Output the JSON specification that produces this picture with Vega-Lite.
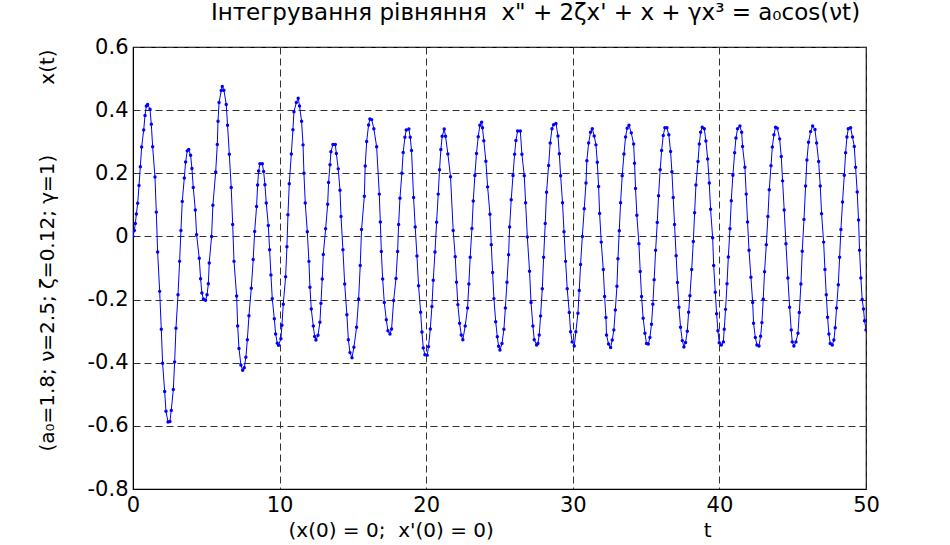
{
  "$schema": "https://vega.github.io/schema/vega-lite/v6.json",
  "width": 733,
  "height": 442,
  "autosize": {"type": "none"},
  "padding": {"left": 133, "top": 47, "right": 84, "bottom": 56},
  "background": "white",
  "title": {
    "text": "Інтегрування рівняння\u00a0\u00a0x\" + 2ζx' + x + γx³ = a₀cos(νt)",
    "font": "DejaVu Sans",
    "fontSize": 23,
    "fontWeight": "normal",
    "color": "black",
    "anchor": "middle",
    "baseline": "alphabetic",
    "offset": 12,
    "dy": 19,
    "dx": 36
  },
  "config": {
    "view": {"stroke": "black", "strokeWidth": 1.2},
    "axis": {
      "labelFont": "DejaVu Sans",
      "labelFontSize": 21,
      "labelColor": "black",
      "titleFont": "DejaVu Sans",
      "titleFontSize": 20,
      "titleFontWeight": "normal",
      "titleColor": "black",
      "domainColor": "black",
      "grid": true,
      "gridColor": "#333333",
      "gridDash": [7, 4],
      "gridWidth": 1,
      "gridOpacity": 1,
      "ticks": false,
      "tickSize": 0
    }
  },
  "data": {
    "values": [
      {"t":0,"x":0},{"t":0.09,"x":0.019},{"t":0.16,"x":0.041},{"t":0.23,"x":0.071},{"t":0.32,"x":0.105},{"t":0.41,"x":0.161},{"t":0.5,"x":0.221},{"t":0.59,"x":0.283},{"t":0.73,"x":0.337},{"t":0.82,"x":0.383},{"t":0.91,"x":0.413},{"t":1.0,"x":0.418},{"t":1.16,"x":0.403},{"t":1.25,"x":0.355},{"t":1.34,"x":0.284},{"t":1.5,"x":0.188},{"t":1.59,"x":0.077},{"t":1.68,"x":-0.049},{"t":1.82,"x":-0.174},{"t":1.93,"x":-0.294},{"t":2.02,"x":-0.402},{"t":2.16,"x":-0.491},{"t":2.25,"x":-0.554},{"t":2.39,"x":-0.588},{"t":2.52,"x":-0.586},{"t":2.61,"x":-0.551},{"t":2.75,"x":-0.485},{"t":2.84,"x":-0.398},{"t":2.93,"x":-0.291},{"t":3.07,"x":-0.185},{"t":3.18,"x":-0.079},{"t":3.27,"x":0.019},{"t":3.36,"x":0.111},{"t":3.5,"x":0.185},{"t":3.59,"x":0.236},{"t":3.7,"x":0.271},{"t":3.8,"x":0.275},{"t":3.93,"x":0.257},{"t":4.02,"x":0.215},{"t":4.11,"x":0.155},{"t":4.25,"x":0.084},{"t":4.34,"x":0.005},{"t":4.52,"x":-0.069},{"t":4.61,"x":-0.134},{"t":4.7,"x":-0.179},{"t":4.8,"x":-0.198},{"t":4.95,"x":-0.202},{"t":5.05,"x":-0.185},{"t":5.14,"x":-0.15},{"t":5.2,"x":-0.084},{"t":5.36,"x":0},{"t":5.45,"x":0.099},{"t":5.64,"x":0.204},{"t":5.75,"x":0.291},{"t":5.8,"x":0.365},{"t":5.87,"x":0.424},{"t":6.02,"x":0.462},{"t":6.09,"x":0.475},{"t":6.2,"x":0.463},{"t":6.36,"x":0.418},{"t":6.45,"x":0.352},{"t":6.57,"x":0.26},{"t":6.7,"x":0.155},{"t":6.8,"x":0.038},{"t":6.89,"x":-0.079},{"t":7.07,"x":-0.189},{"t":7.14,"x":-0.284},{"t":7.23,"x":-0.355},{"t":7.36,"x":-0.407},{"t":7.48,"x":-0.424},{"t":7.59,"x":-0.416},{"t":7.7,"x":-0.383},{"t":7.8,"x":-0.327},{"t":7.91,"x":-0.251},{"t":8.07,"x":-0.164},{"t":8.2,"x":-0.073},{"t":8.3,"x":0.016},{"t":8.43,"x":0.095},{"t":8.5,"x":0.163},{"t":8.57,"x":0.207},{"t":8.66,"x":0.23},{"t":8.82,"x":0.23},{"t":8.91,"x":0.206},{"t":9.0,"x":0.164},{"t":9.09,"x":0.106},{"t":9.23,"x":0.035},{"t":9.32,"x":-0.042},{"t":9.41,"x":-0.122},{"t":9.5,"x":-0.197},{"t":9.64,"x":-0.261},{"t":9.73,"x":-0.309},{"t":9.84,"x":-0.338},{"t":9.93,"x":-0.345},{"t":10.09,"x":-0.324},{"t":10.16,"x":-0.281},{"t":10.25,"x":-0.215},{"t":10.41,"x":-0.128},{"t":10.5,"x":-0.033},{"t":10.57,"x":0.069},{"t":10.66,"x":0.167},{"t":10.8,"x":0.261},{"t":10.91,"x":0.338},{"t":10.98,"x":0.395},{"t":11.14,"x":0.424},{"t":11.27,"x":0.438},{"t":11.36,"x":0.413},
      {"t":11.5,"x":0.365},{"t":11.6,"x":0.29},{"t":11.66,"x":0.2},{"t":11.75,"x":0.106},{"t":11.89,"x":0.015},{"t":12.0,"x":-0.079},{"t":12.07,"x":-0.161},{"t":12.16,"x":-0.23},{"t":12.3,"x":-0.284},{"t":12.39,"x":-0.317},{"t":12.48,"x":-0.328},{"t":12.62,"x":-0.313},{"t":12.75,"x":-0.272},{"t":12.82,"x":-0.212},{"t":12.91,"x":-0.135},{"t":12.98,"x":-0.057},{"t":13.14,"x":0.024},{"t":13.28,"x":0.102},{"t":13.34,"x":0.171},{"t":13.44,"x":0.227},{"t":13.5,"x":0.268},{"t":13.64,"x":0.291},{"t":13.8,"x":0.291},{"t":13.87,"x":0.263},{"t":14.0,"x":0.214},{"t":14.12,"x":0.146},{"t":14.19,"x":0.063},{"t":14.32,"x":-0.042},{"t":14.44,"x":-0.151},{"t":14.59,"x":-0.248},{"t":14.69,"x":-0.327},{"t":14.8,"x":-0.368},{"t":14.94,"x":-0.384},{"t":15.07,"x":-0.351},{"t":15.25,"x":-0.288},{"t":15.39,"x":-0.198},{"t":15.5,"x":-0.092},{"t":15.59,"x":0.022},{"t":15.78,"x":0.127},{"t":15.84,"x":0.223},{"t":15.94,"x":0.301},{"t":16.07,"x":0.353},{"t":16.16,"x":0.372},{"t":16.28,"x":0.37},{"t":16.43,"x":0.341},{"t":16.62,"x":0.284},{"t":16.8,"x":0.134},{"t":16.87,"x":0.046},{"t":16.94,"x":-0.048},{"t":17.03,"x":-0.135},{"t":17.14,"x":-0.209},{"t":17.28,"x":-0.264},{"t":17.39,"x":-0.299},{"t":17.53,"x":-0.309},{"t":17.64,"x":-0.293},{"t":17.78,"x":-0.203},{"t":17.94,"x":-0.133},{"t":18.05,"x":-0.048},{"t":18.12,"x":0.038},{"t":18.21,"x":0.121},{"t":18.34,"x":0.2},{"t":18.43,"x":0.266},{"t":18.55,"x":0.314},{"t":18.64,"x":0.337},{"t":18.82,"x":0.34},{"t":18.91,"x":0.314},{"t":19.0,"x":0.272},{"t":19.14,"x":0.123},{"t":19.25,"x":0.03},{"t":19.37,"x":-0.062},{"t":19.48,"x":-0.156},{"t":19.62,"x":-0.24},{"t":19.71,"x":-0.303},{"t":19.8,"x":-0.353},{"t":19.91,"x":-0.375},{"t":20.07,"x":-0.376},{"t":20.16,"x":-0.349},{"t":20.28,"x":-0.293},{"t":20.39,"x":-0.222},{"t":20.48,"x":-0.139},{"t":20.6,"x":-0.049},{"t":20.71,"x":0.045},{"t":20.82,"x":0.134},{"t":20.91,"x":0.211},{"t":21.0,"x":0.275},{"t":21.09,"x":0.317},{"t":21.23,"x":0.34},{"t":21.32,"x":0.317},{"t":21.48,"x":0.261},{"t":21.66,"x":0.189},{"t":21.84,"x":0.019},{"t":21.98,"x":-0.064},{"t":22.07,"x":-0.145},{"t":22.16,"x":-0.216},{"t":22.28,"x":-0.275},{"t":22.39,"x":-0.312},{"t":22.5,"x":-0.327},{"t":22.66,"x":-0.284},{"t":22.82,"x":-0.227},{"t":22.91,"x":-0.151},{"t":23.0,"x":-0.066},{"t":23.12,"x":0.025},{"t":23.21,"x":0.112},{"t":23.32,"x":0.193},{"t":23.43,"x":0.263},{"t":23.55,"x":0.316},{"t":23.66,"x":0.352},{"t":23.78,"x":0.362},{"t":23.84,"x":0.344},{"t":23.93,"x":0.303},{"t":24.07,"x":0.238},{"t":24.19,"x":0.157},
      {"t":24.35,"x":0.07},{"t":24.44,"x":-0.026},{"t":24.53,"x":-0.114},{"t":24.62,"x":-0.197},{"t":24.74,"x":-0.27},{"t":24.85,"x":-0.318},{"t":24.94,"x":-0.348},{"t":25.03,"x":-0.36},{"t":25.17,"x":-0.339},{"t":25.3,"x":-0.294},{"t":25.4,"x":-0.227},{"t":25.51,"x":-0.145},{"t":25.62,"x":-0.058},{"t":25.69,"x":0.03},{"t":25.8,"x":0.116},{"t":25.92,"x":0.193},{"t":26.03,"x":0.26},{"t":26.12,"x":0.304},{"t":26.24,"x":0.334},{"t":26.42,"x":0.334},{"t":26.53,"x":0.26},{"t":26.69,"x":0.192},{"t":26.78,"x":0.107},{"t":26.9,"x":-0.002},{"t":27.05,"x":-0.11},{"t":27.15,"x":-0.209},{"t":27.28,"x":-0.284},{"t":27.37,"x":-0.327},{"t":27.53,"x":-0.344},{"t":27.62,"x":-0.339},{"t":27.71,"x":-0.312},{"t":27.8,"x":-0.252},{"t":27.92,"x":-0.166},{"t":28.01,"x":-0.066},{"t":28.12,"x":0.041},{"t":28.21,"x":0.14},{"t":28.35,"x":0.225},{"t":28.46,"x":0.296},{"t":28.58,"x":0.341},{"t":28.69,"x":0.354},{"t":28.85,"x":0.358},{"t":28.99,"x":0.318},{"t":29.08,"x":0.262},{"t":29.17,"x":0.192},{"t":29.3,"x":0.107},{"t":29.4,"x":0.015},{"t":29.51,"x":-0.079},{"t":29.62,"x":-0.166},{"t":29.76,"x":-0.241},{"t":29.85,"x":-0.302},{"t":29.96,"x":-0.334},{"t":30.1,"x":-0.347},{"t":30.21,"x":-0.302},{"t":30.35,"x":-0.243},{"t":30.44,"x":-0.171},{"t":30.53,"x":-0.089},{"t":30.65,"x":0},{"t":30.78,"x":0.088},{"t":30.9,"x":0.169},{"t":30.96,"x":0.24},{"t":31.08,"x":0.296},{"t":31.21,"x":0.33},{"t":31.33,"x":0.341},{"t":31.46,"x":0.318},{"t":31.58,"x":0.29},{"t":31.67,"x":0.235},{"t":31.76,"x":0.158},{"t":31.83,"x":0.073},{"t":31.94,"x":-0.018},{"t":32.08,"x":-0.105},{"t":32.17,"x":-0.19},{"t":32.26,"x":-0.257},{"t":32.3,"x":-0.312},{"t":32.44,"x":-0.341},{"t":32.58,"x":-0.352},{"t":32.69,"x":-0.328},{"t":32.8,"x":-0.296},{"t":32.9,"x":-0.233},{"t":33.01,"x":-0.158},{"t":33.08,"x":-0.071},{"t":33.17,"x":0.018},{"t":33.26,"x":0.107},{"t":33.37,"x":0.192},{"t":33.49,"x":0.261},{"t":33.6,"x":0.315},{"t":33.71,"x":0.343},{"t":33.83,"x":0.352},{"t":33.99,"x":0.328},{"t":34.15,"x":0.293},{"t":34.21,"x":0.232},{"t":34.28,"x":0.152},{"t":34.37,"x":0.067},{"t":34.51,"x":-0.023},{"t":34.6,"x":-0.111},{"t":34.69,"x":-0.19},{"t":34.8,"x":-0.259},{"t":34.92,"x":-0.307},{"t":35.03,"x":-0.339},{"t":35.15,"x":-0.341},{"t":35.26,"x":-0.32},{"t":35.37,"x":-0.278},{"t":35.46,"x":-0.215},{"t":35.55,"x":-0.137},{"t":35.65,"x":-0.044},{"t":35.76,"x":0.044},{"t":35.85,"x":0.129},{"t":35.96,"x":0.211},{"t":36.06,"x":0.272},{"t":36.17,"x":0.32},{"t":36.28,"x":0.344},{"t":36.42,"x":0.344},{"t":36.55,"x":0.322},{"t":36.67,"x":0.269},{"t":36.76,"x":0.205},{"t":36.85,"x":0.123},{"t":36.94,"x":0.038},{"t":37.05,"x":-0.061},{"t":37.14,"x":-0.146},{"t":37.24,"x":-0.224},{"t":37.35,"x":-0.288},{"t":37.47,"x":-0.33},{"t":37.58,"x":-0.35},{"t":37.69,"x":-0.336},{"t":37.81,"x":-0.3},{"t":37.9,"x":-0.24},{"t":37.99,"x":-0.188},
      {"t":38.11,"x":-0.105},{"t":38.22,"x":-0.016},{"t":38.31,"x":0.075},{"t":38.4,"x":0.163},{"t":38.54,"x":0.237},{"t":38.63,"x":0.293},{"t":38.72,"x":0.33},{"t":38.83,"x":0.346},{"t":38.97,"x":0.341},{"t":39.08,"x":0.302},{"t":39.2,"x":0.245},{"t":39.31,"x":0.169},{"t":39.4,"x":0.086},{"t":39.54,"x":-0.004},{"t":39.61,"x":-0.092},{"t":39.72,"x":-0.177},{"t":39.81,"x":-0.245},{"t":39.9,"x":-0.299},{"t":39.99,"x":-0.337},{"t":40.13,"x":-0.344},{"t":40.27,"x":-0.334},{"t":40.33,"x":-0.294},{"t":40.42,"x":-0.231},{"t":40.52,"x":-0.15},{"t":40.61,"x":-0.065},{"t":40.72,"x":0.024},{"t":40.81,"x":0.113},{"t":40.92,"x":0.194},{"t":41.04,"x":0.265},{"t":41.13,"x":0.312},{"t":41.24,"x":0.341},{"t":41.4,"x":0.35},{"t":41.52,"x":0.33},{"t":41.58,"x":0.285},{"t":41.74,"x":0.219},{"t":41.83,"x":0.134},{"t":41.92,"x":0.046},{"t":42.02,"x":-0.044},{"t":42.15,"x":-0.129},{"t":42.27,"x":-0.209},{"t":42.33,"x":-0.275},{"t":42.45,"x":-0.32},{"t":42.56,"x":-0.344},{"t":42.7,"x":-0.347},{"t":42.81,"x":-0.316},{"t":42.9,"x":-0.273},{"t":42.99,"x":-0.199},{"t":43.08,"x":-0.112},{"t":43.2,"x":-0.026},{"t":43.31,"x":0.063},{"t":43.4,"x":0.148},{"t":43.52,"x":0.224},{"t":43.61,"x":0.283},{"t":43.72,"x":0.322},{"t":43.83,"x":0.346},{"t":43.95,"x":0.343},{"t":44.11,"x":0.309},{"t":44.22,"x":0.253},{"t":44.31,"x":0.176},{"t":44.42,"x":0.084},{"t":44.54,"x":-0.023},{"t":44.67,"x":-0.132},{"t":44.79,"x":-0.224},{"t":44.9,"x":-0.296},{"t":44.97,"x":-0.334},{"t":45.08,"x":-0.347},{"t":45.22,"x":-0.334},{"t":45.36,"x":-0.307},{"t":45.45,"x":-0.241},{"t":45.56,"x":-0.151},{"t":45.65,"x":-0.047},{"t":45.77,"x":0.054},{"t":45.88,"x":0.16},{"t":45.97,"x":0.242},{"t":46.08,"x":0.298},{"t":46.22,"x":0.332},{"t":46.36,"x":0.35},{"t":46.52,"x":0.339},{"t":46.63,"x":0.296},{"t":46.77,"x":0.237},{"t":46.88,"x":0.16},{"t":46.97,"x":0.072},{"t":47.11,"x":-0.018},{"t":47.2,"x":-0.105},{"t":47.29,"x":-0.185},{"t":47.38,"x":-0.256},{"t":47.47,"x":-0.309},{"t":47.56,"x":-0.339},{"t":47.7,"x":-0.344},{"t":47.81,"x":-0.328},{"t":47.9,"x":-0.289},{"t":47.99,"x":-0.227},{"t":48.11,"x":-0.153},{"t":48.2,"x":-0.066},{"t":48.29,"x":0.022},{"t":48.4,"x":0.109},{"t":48.52,"x":0.194},{"t":48.61,"x":0.265},{"t":48.7,"x":0.315},{"t":48.79,"x":0.341},{"t":48.95,"x":0.344},{"t":49.08,"x":0.315},{"t":49.2,"x":0.285},{"t":49.29,"x":0.219},{"t":49.4,"x":0.141},{"t":49.49,"x":0.052},{"t":49.56,"x":-0.044},{"t":49.65,"x":-0.132},{"t":49.74,"x":-0.2},{"t":49.83,"x":-0.23},{"t":49.9,"x":-0.267},{"t":50.0,"x":-0.296}
    ]
  },
  "encoding": {
    "x": {
      "field": "t",
      "type": "quantitative",
      "scale": {"domain": [0, 50], "nice": false, "zero": false},
      "axis": {
        "values": [0, 10, 20, 30, 40, 50],
        "title": "(x(0) = 0;\u00a0\u00a0x'(0) = 0)\u00a0\u00a0\u00a0\u00a0\u00a0\u00a0\u00a0\u00a0\u00a0\u00a0\u00a0\u00a0\u00a0\u00a0\u00a0\u00a0\u00a0\u00a0\u00a0\u00a0\u00a0\u00a0\u00a0\u00a0\u00a0\u00a0\u00a0\u00a0\u00a0\u00a0\u00a0\u00a0\u00a0t",
        "labelPadding": 22,
        "labelBaseline": "alphabetic",
        "titleBaseline": "alphabetic",
        "titleY": 47,
        "labelFlush": false
      }
    },
    "y": {
      "field": "x",
      "type": "quantitative",
      "scale": {"domain": [-0.8, 0.6], "nice": false, "zero": false},
      "axis": {
        "values": [-0.8, -0.6, -0.4, -0.2, 0, 0.2, 0.4, 0.6],
        "labelExpr": "toString(round(datum.value * 10) / 10)",
        "labelPadding": 5,
        "labelFlush": false,
        "title": "(a₀=1.8;\u00a0ν=2.5;\u00a0ζ=0.12;\u00a0γ=1)\u00a0\u00a0\u00a0\u00a0\u00a0\u00a0\u00a0\u00a0\u00a0\u00a0\u00a0x(t)",
        "titleX": -86,
        "titleY": 203,
        "titleBaseline": "middle",
        "titleAlign": "center"
      }
    }
  },
  "layer": [
    {"mark": {"type": "line", "color": "#0000ff", "strokeWidth": 1, "clip": true}},
    {"mark": {"type": "point", "filled": true, "color": "#0000ff", "size": 12, "opacity": 1, "clip": true}}
  ]
}
